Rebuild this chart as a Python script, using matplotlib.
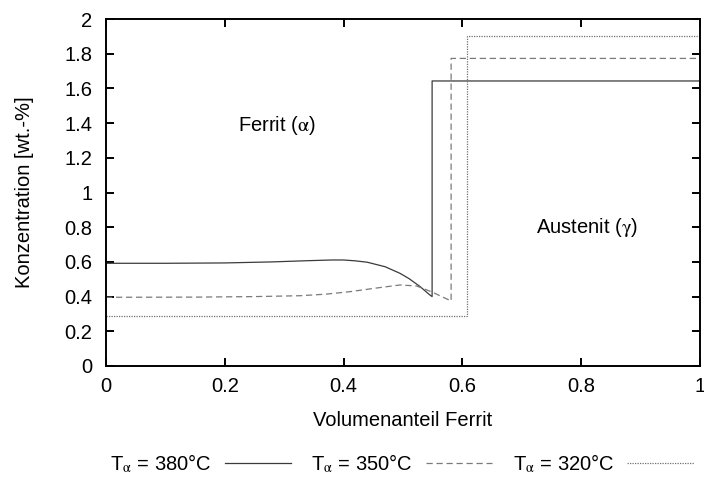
import matplotlib
matplotlib.use("Agg")
import matplotlib.pyplot as plt

plt.rcParams['font.family'] = ['Liberation Sans', 'DejaVu Sans']
plt.rcParams['mathtext.fontset'] = 'stix'

# Konzentrationsprofile (Volumenanteil Ferrit, Konzentration wt.-%)
x_380 = [0.0, 0.10, 0.20, 0.28, 0.34, 0.38, 0.40, 0.42, 0.44, 0.47, 0.495, 0.51, 0.529, 0.545, 0.549, 0.549, 1.0]
c_380 = [0.592, 0.592, 0.594, 0.600, 0.607, 0.611, 0.611, 0.606, 0.598, 0.572, 0.534, 0.504, 0.457, 0.41, 0.40, 1.643, 1.643]

x_350 = [0.0, 0.15, 0.25, 0.327, 0.37, 0.41, 0.45, 0.495, 0.523, 0.55, 0.565, 0.581, 0.581, 1.0]
c_350 = [0.396, 0.397, 0.400, 0.405, 0.414, 0.428, 0.447, 0.467, 0.461, 0.425, 0.40, 0.375, 1.773, 1.773]

x_320 = [0.0, 0.608, 0.608, 1.0]
c_320 = [0.288, 0.288, 1.904, 1.904]

labels = ['T$_{\\mathrm{\\alpha}}$ = 380°C', 'T$_{\\mathrm{\\alpha}}$ = 350°C',
          'T$_{\\mathrm{\\alpha}}$ = 320°C']

FS = 14.5

fig = plt.figure(figsize=(7.04, 5.01), dpi=100)
ax = fig.add_axes([0.1506, 0.2695, 0.8437, 0.6925])

l1, = ax.plot(x_380, c_380, color='#3a3a3a', lw=0.9, ls='-')
l2, = ax.plot(x_350, c_350, color='#7a7a7a', lw=0.9, ls=(0, (5, 3)))
l3, = ax.plot(x_320, c_320, color='#707070', lw=0.9, ls=(0, (1, 1)))

ax.set_xlim(0, 1)
ax.set_ylim(0, 2)
ax.set_xticks([0, 0.2, 0.4, 0.6, 0.8, 1])
ax.set_xticklabels(['0', '0.2', '0.4', '0.6', '0.8', '1'])
ax.set_yticks([i * 0.2 for i in range(11)])
ax.set_yticklabels(['0', '0.2', '0.4', '0.6', '0.8', '1', '1.2', '1.4', '1.6', '1.8', '2'])
ax.tick_params(direction='in', length=6, width=1.4, top=True, right=True,
               labelsize=FS)
ax.tick_params(axis='y', pad=10)
ax.tick_params(axis='x', pad=8)
for s in ax.spines.values():
    s.set_linewidth(1.4)

ax.set_xlabel('Volumenanteil Ferrit', fontsize=FS, labelpad=11)
ax.set_ylabel('Konzentration [wt.-%]', fontsize=FS, labelpad=22)

ax.text(0.288, 1.389, 'Ferrit ($\\mathrm{\\alpha}$)', fontsize=FS, ha='center', va='center')
ax.text(0.81, 0.80, 'Austenit ($\\mathrm{\\gamma}$)', fontsize=FS, ha='center', va='center')

fig.legend([l1, l2, l3], labels, loc='center', bbox_to_anchor=(0.571, 0.075),
           ncol=3, markerfirst=False, frameon=False, fontsize=FS,
           handlelength=3.3, handletextpad=0.65, columnspacing=1.0)

fig.savefig('out.png', dpi=100)
